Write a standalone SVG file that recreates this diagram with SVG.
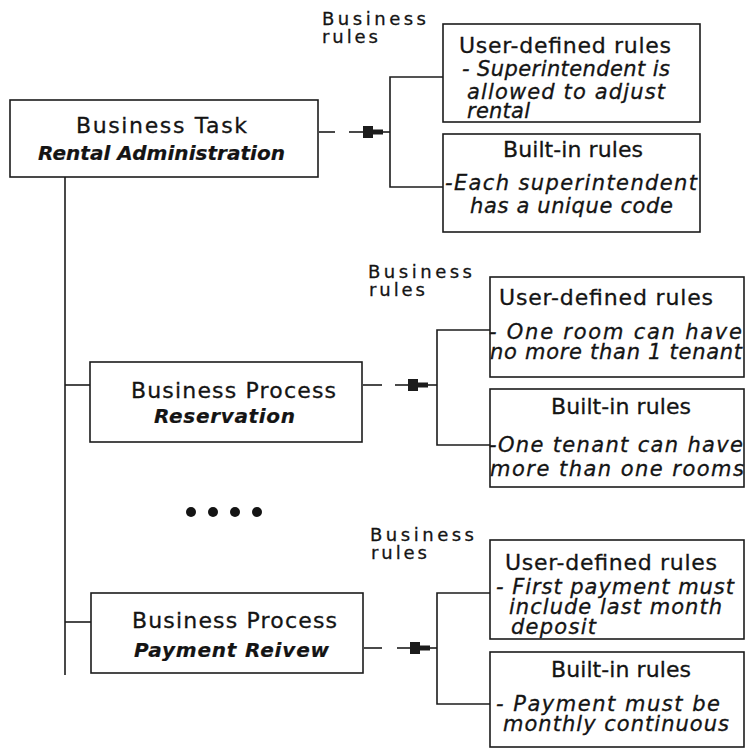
<svg xmlns="http://www.w3.org/2000/svg" xmlns:xlink="http://www.w3.org/1999/xlink" width="745" height="749" viewBox="0 0 745 749">
  <style>
    .box { fill: #ffffff; stroke: #1c1c1c; stroke-width: 1.6; }
    .ln { fill: none; stroke: #1c1c1c; stroke-width: 1.6; }
    text { font-family: "DejaVu Sans", "Liberation Sans", sans-serif; fill: #141414; stroke: #141414; stroke-width: 0.3; }
    .hd { font-size: 22px; }
    .it { font-size: 21px; font-style: italic; }
    .bi { font-size: 20px; font-style: italic; font-weight: bold; stroke-width: 0.2; }
    .lbl { font-size: 18px; }
  </style>
  <defs>
    <!-- plug-shaped arrowhead: wide block, then a narrow neck -->
    <g id="plug">
      <rect x="0" y="-6" width="10" height="12" fill="#1c1c1c"/>
      <rect x="10" y="-2.5" width="10" height="5" fill="#1c1c1c"/>
    </g>
  </defs>
  <rect width="745" height="749" fill="#ffffff"/>

  <!-- connectors -->
  <g id="connectors">
    <!-- main trunk and stubs -->
    <line class="ln" x1="65" y1="177" x2="65" y2="675"/>
    <line class="ln" x1="65" y1="385" x2="90" y2="385"/>
    <line class="ln" x1="65" y1="622" x2="91" y2="622"/>

    <!-- Business Task -> rules -->
    <line class="ln" x1="319" y1="132" x2="335" y2="132"/>
    <line class="ln" x1="349" y1="132" x2="363" y2="132"/>
    <use xlink:href="#plug" x="363" y="132"/>
    <line class="ln" x1="383" y1="132" x2="390" y2="132"/>
    <polyline class="ln" points="443,77 390,77 390,187 443,187"/>

    <!-- Reservation -> rules -->
    <line class="ln" x1="363" y1="385" x2="382" y2="385"/>
    <line class="ln" x1="395" y1="385" x2="408" y2="385"/>
    <use xlink:href="#plug" x="408" y="385"/>
    <line class="ln" x1="428" y1="385" x2="437" y2="385"/>
    <polyline class="ln" points="490,330 437,330 437,445 490,445"/>

    <!-- Payment Reivew -> rules -->
    <line class="ln" x1="364" y1="648" x2="382" y2="648"/>
    <line class="ln" x1="397" y1="648" x2="410" y2="648"/>
    <use xlink:href="#plug" x="410" y="648"/>
    <line class="ln" x1="430" y1="648" x2="437" y2="648"/>
    <polyline class="ln" points="490,593 437,593 437,704 490,704"/>
  </g>

  <!-- Business Task -->
  <g id="task-rental">
    <rect class="box" x="10" y="100" width="308" height="77"/>
    <text class="hd" x="76" y="133" textLength="171">Business Task</text>
    <text class="bi" x="38" y="160" textLength="247">Rental Administration</text>
  </g>

  <g id="rules-label-1">
    <text class="lbl" x="322" y="25" textLength="104">Business</text>
    <text class="lbl" x="322" y="43" textLength="56">rules</text>
  </g>

  <g id="user-rules-1">
    <rect class="box" x="443" y="24" width="257" height="98"/>
    <text class="hd" x="459" y="53" textLength="212">User-defined rules</text>
    <text class="it" x="462" y="76" textLength="208">- Superintendent is</text>
    <text class="it" x="467" y="99" textLength="198">allowed to adjust</text>
    <text class="it" x="467" y="118" textLength="63">rental</text>
  </g>

  <g id="builtin-rules-1">
    <rect class="box" x="443" y="134" width="257" height="98"/>
    <text class="hd" x="503" y="157" textLength="140">Built-in rules</text>
    <text class="it" x="445" y="190" textLength="252">-Each superintendent</text>
    <text class="it" x="470" y="213" textLength="203">has a unique code</text>
  </g>

  <!-- Business Process: Reservation -->
  <g id="process-reservation">
    <rect class="box" x="90" y="362" width="272" height="80"/>
    <text class="hd" x="131" y="398" textLength="205">Business Process</text>
    <text class="bi" x="154" y="423" textLength="141">Reservation</text>
  </g>

  <g id="rules-label-2">
    <text class="lbl" x="368" y="278" textLength="104">Business</text>
    <text class="lbl" x="369" y="296" textLength="56">rules</text>
  </g>

  <g id="user-rules-2">
    <rect class="box" x="490" y="277" width="254" height="100"/>
    <text class="hd" x="499" y="305" textLength="214">User-defined rules</text>
    <text class="it" x="489" y="339" textLength="253">- One room can have</text>
    <text class="it" x="490" y="359" textLength="252">no more than 1 tenant</text>
  </g>

  <g id="builtin-rules-2">
    <rect class="box" x="490" y="389" width="254" height="98"/>
    <text class="hd" x="551" y="414" textLength="140">Built-in rules</text>
    <text class="it" x="489" y="452" textLength="254">-One tenant can have</text>
    <text class="it" x="490" y="476" textLength="254">more than one rooms</text>
  </g>

  <!-- ellipsis between processes -->
  <g id="more-processes" fill="#141414">
    <circle cx="191" cy="512" r="5"/>
    <circle cx="213" cy="512" r="5"/>
    <circle cx="235" cy="512" r="5"/>
    <circle cx="257" cy="512" r="5"/>
  </g>

  <!-- Business Process: Payment Reivew -->
  <g id="process-payment">
    <rect class="box" x="91" y="593" width="272" height="80"/>
    <text class="hd" x="132" y="628" textLength="205">Business Process</text>
    <text class="bi" x="134" y="657" textLength="195">Payment Reivew</text>
  </g>

  <g id="rules-label-3">
    <text class="lbl" x="370" y="541" textLength="104">Business</text>
    <text class="lbl" x="371" y="559" textLength="56">rules</text>
  </g>

  <g id="user-rules-3">
    <rect class="box" x="490" y="540" width="254" height="99"/>
    <text class="hd" x="505" y="570" textLength="212">User-defined rules</text>
    <text class="it" x="496" y="594" textLength="238">- First payment must</text>
    <text class="it" x="509" y="614" textLength="213">include last month</text>
    <text class="it" x="511" y="634" textLength="85">deposit</text>
  </g>

  <g id="builtin-rules-3">
    <rect class="box" x="490" y="652" width="254" height="95"/>
    <text class="hd" x="551" y="677" textLength="140">Built-in rules</text>
    <text class="it" x="496" y="711" textLength="224">- Payment must be</text>
    <text class="it" x="503" y="731" textLength="226">monthly continuous</text>
  </g>
</svg>
